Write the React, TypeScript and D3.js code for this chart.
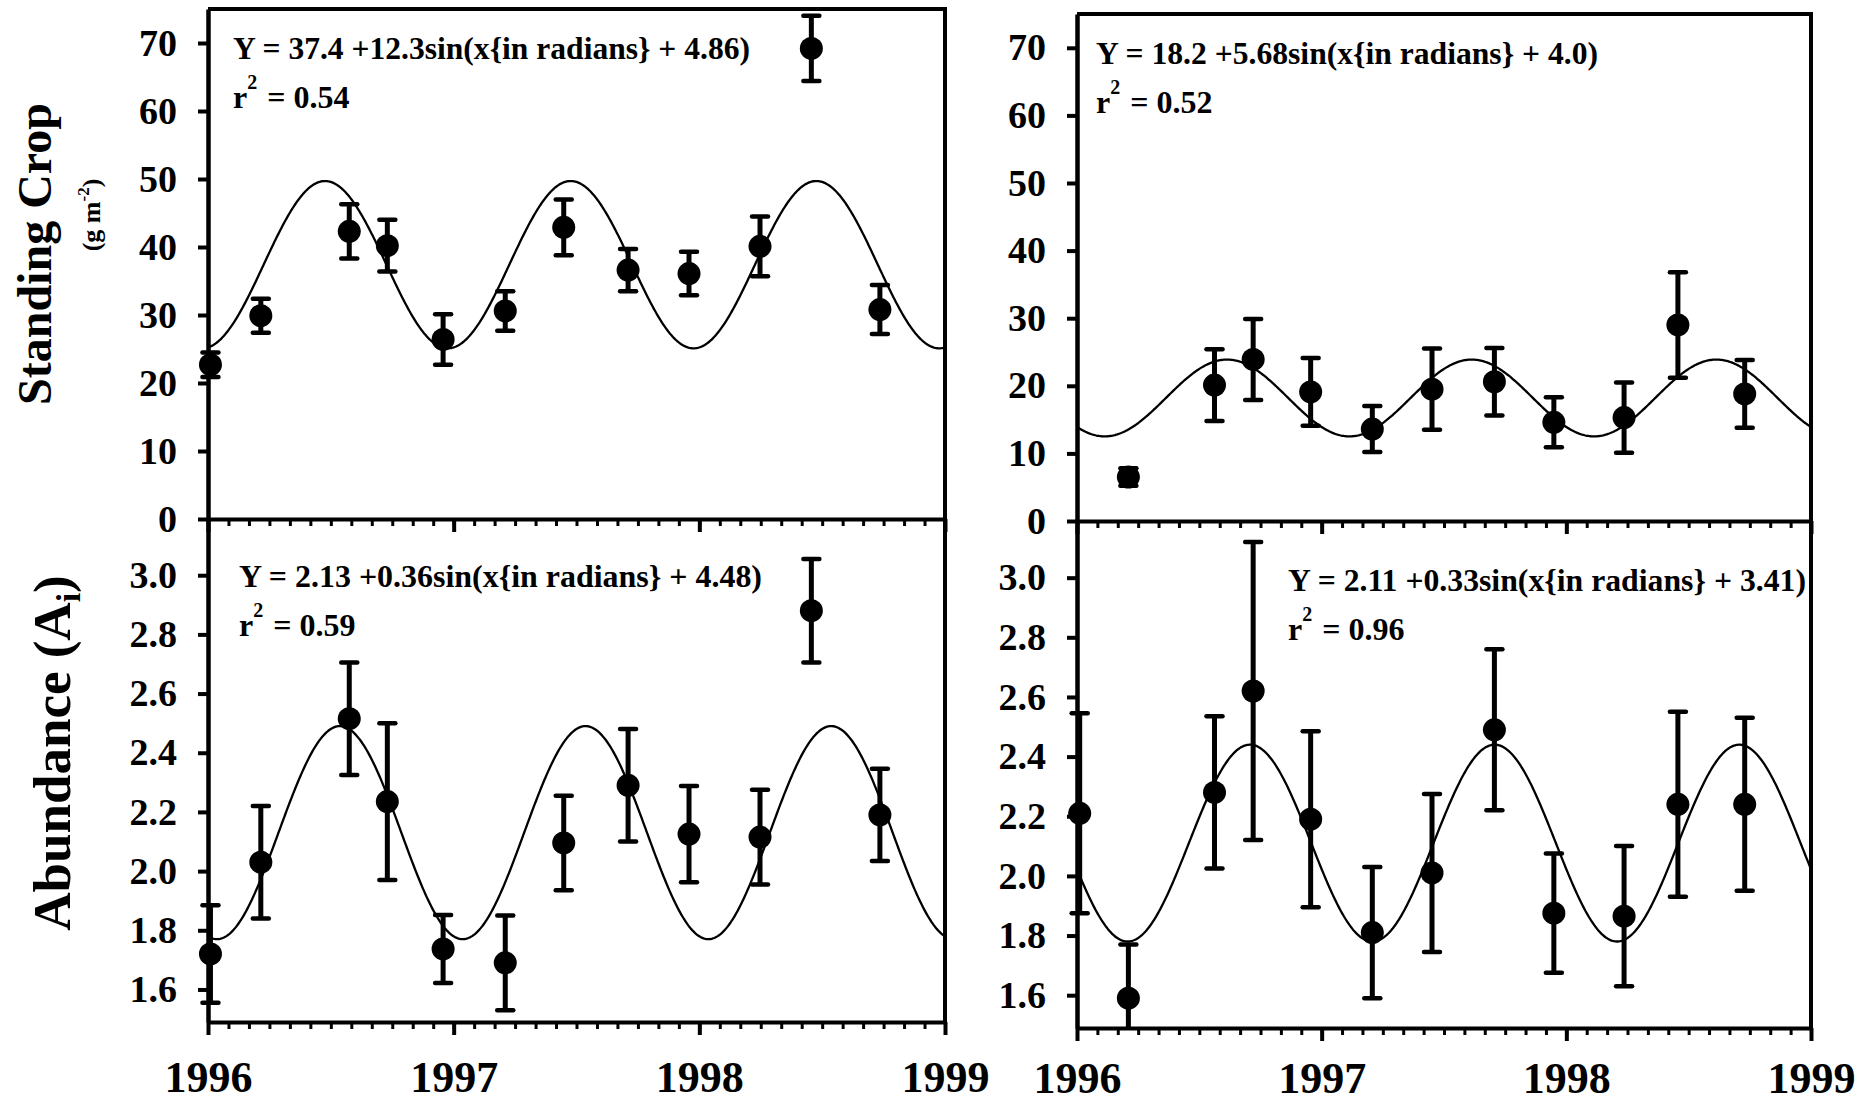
import * as d3 from "d3";
import React, { useEffect, useRef } from "react";

const FONT = '"Liberation Serif", "Times New Roman", Times, serif';

// sampling dates, decimal years (left column and right column)
const leftDates = [1996.01, 1996.215, 1996.575, 1996.73, 1996.957, 1997.21, 1997.448, 1997.71, 1997.958, 1998.247, 1998.456, 1998.735];
const rightDates = [1996.011, 1996.21, 1996.562, 1996.72, 1996.955, 1997.207, 1997.451, 1997.706, 1997.949, 1998.236, 1998.456, 1998.729];

// standing crop (g m-2), mean and error
const cropLeft = [22.7, 29.9, 42.3, 40.2, 26.4, 30.6, 42.9, 36.6, 36.1, 40.1, 69.2, 30.8];
const cropLeftErr = [1.8, 2.5, 4.0, 3.8, 3.7, 2.9, 4.1, 3.1, 3.2, 4.4, 4.8, 3.6];
const cropRight = [null, 6.5, 20.1, 23.9, 19.1, 13.6, 19.5, 20.6, 14.6, 15.3, 29.0, 18.8];
const cropRightErr = [null, 1.3, 5.3, 6.0, 5.0, 3.4, 6.0, 5.0, 3.7, 5.2, 7.8, 5.0];

// abundance (Ai), mean and error
const abundLeft = [1.72, 2.03, 2.515, 2.235, 1.737, 1.69, 2.095, 2.29, 2.125, 2.115, 2.88, 2.19];
const abundLeftErr = [0.165, 0.19, 0.19, 0.265, 0.115, 0.16, 0.16, 0.19, 0.163, 0.16, 0.175, 0.156];
const abundRight = [2.21, 1.59, 2.28, 2.62, 2.19, 1.81, 2.01, 2.49, 1.875, 1.865, 2.24, 2.24];
const abundRightErr = [0.335, 0.18, 0.255, 0.5, 0.295, 0.22, 0.265, 0.27, 0.2, 0.235, 0.31, 0.29];

// fitted sine curves: Y = mean + amp*sin(x + phase)
const fitMean = [37.4, 18.2, 2.13, 2.11];
const fitAmp = [12.3, 5.68, 0.36, 0.33];
const fitPhase = [4.86, 4.0, 4.48, 3.41];
const fitText = [
  "Y = 37.4 +12.3sin(x{in radians} + 4.86)",
  "Y = 18.2 +5.68sin(x{in radians} + 4.0)",
  "Y = 2.13 +0.36sin(x{in radians} + 4.48)",
  "Y = 2.11 +0.33sin(x{in radians} + 3.41)",
];
const fitR2 = ["0.54", "0.52", "0.59", "0.96"];

const yearTicks = [1996, 1997, 1998, 1999];
const cropTicks = [0, 10, 20, 30, 40, 50, 60, 70];
const abundTicks = [1.6, 1.8, 2.0, 2.2, 2.4, 2.6, 2.8, 3.0];

const W = 1868, H = 1106;

export default function App() {
  const svgRef = useRef<SVGSVGElement>(null);

  useEffect(() => {
    const svg = d3.select(svgRef.current);
    svg.selectAll("*").remove();

    const monthTicks = d3.range(37).map((i) => 1996 + i / 12);

    const panels = [
      { dates: leftDates, mean: cropLeft, err: cropLeftErr, domain: [0, 75], ticks: cropTicks, fmt: d3.format("d"),
        x0: 208, x1: 945, y0: 9, y1: 519, eq: [233, 59], eqLen: 517, years: false, pad: 26 },
      { dates: rightDates, mean: cropRight, err: cropRightErr, domain: [0, 75], ticks: cropTicks, fmt: d3.format("d"),
        x0: 1077, x1: 1811, y0: 14, y1: 521, eq: [1096, 64], eqLen: 502, years: false, pad: 21 },
      { dates: leftDates, mean: abundLeft, err: abundLeftErr, domain: [1.49, 3.19], ticks: abundTicks, fmt: d3.format(".1f"),
        x0: 208, x1: 945, y0: 519, y1: 1022, eq: [239, 587], eqLen: 523, years: true, pad: 26 },
      { dates: rightDates, mean: abundRight, err: abundRightErr, domain: [1.49, 3.19], ticks: abundTicks, fmt: d3.format(".1f"),
        x0: 1077, x1: 1811, y0: 521, y1: 1028, eq: [1288, 591], eqLen: 518, years: true, pad: 21 },
    ];

    panels.forEach((p, i) => {
      const x = d3.scaleLinear().domain([1996, 1999]).range([p.x0, p.x1]);
      const y = d3.scaleLinear().domain(p.domain).range([p.y1, p.y0]);
      const g = svg.append("g");

      // curve clipped to the frame, bars clipped only top/bottom
      const clipId = "clip-" + i;
      svg.append("clipPath").attr("id", clipId)
        .append("rect")
        .attr("x", p.x0).attr("y", p.y0)
        .attr("width", p.x1 - p.x0).attr("height", p.y1 - p.y0);
      const barClipId = "barclip-" + i;
      svg.append("clipPath").attr("id", barClipId)
        .append("rect")
        .attr("x", p.x0 - 30).attr("y", p.y0)
        .attr("width", p.x1 - p.x0 + 60).attr("height", p.y1 - p.y0);

      // fitted curve
      const tt = d3.range(0, 601).map((k) => 1996 + (k * 3) / 600);
      const line = d3.line<number>()
        .x((t) => x(t))
        .y((t) => y(fitMean[i] + fitAmp[i] * Math.sin(2 * Math.PI * (t - 1996) + fitPhase[i])));
      g.append("path")
        .datum(tt)
        .attr("d", line)
        .attr("fill", "none")
        .attr("stroke", "#000")
        .attr("stroke-width", 2.3)
        .attr("clip-path", `url(#${clipId})`);

      // points with error bars
      const pts = p.dates
        .map((d, k) => ({ t: d, m: p.mean[k], e: p.err[k] }))
        .filter((d) => d.m != null);
      const marks = g.append("g").attr("clip-path", `url(#${barClipId})`);
      const pt = marks.selectAll("g.pt").data(pts).enter().append("g").attr("class", "pt");
      pt.append("line")
        .attr("x1", (d) => x(d.t)).attr("x2", (d) => x(d.t))
        .attr("y1", (d) => y(d.m - d.e)).attr("y2", (d) => y(d.m + d.e))
        .attr("stroke", "#000").attr("stroke-width", 5);
      [1, -1].forEach((s) => {
        pt.append("line")
          .attr("x1", (d) => x(d.t) - 8).attr("x2", (d) => x(d.t) + 8)
          .attr("y1", (d) => y(d.m + s * d.e)).attr("y2", (d) => y(d.m + s * d.e))
          .attr("stroke", "#000").attr("stroke-width", 4.5).attr("stroke-linecap", "round");
      });
      pt.append("circle")
        .attr("cx", (d) => x(d.t)).attr("cy", (d) => y(d.m))
        .attr("r", 11.5).attr("fill", "#000");

      // frame: top and right borders
      if (!p.years) {
        g.append("line").attr("x1", p.x0).attr("x2", p.x1 + 2).attr("y1", p.y0).attr("y2", p.y0)
          .attr("stroke", "#000").attr("stroke-width", 4);
      }
      g.append("line").attr("x1", p.x1).attr("x2", p.x1).attr("y1", p.y0 - 2).attr("y2", p.y1)
        .attr("stroke", "#000").attr("stroke-width", 4);

      // x axis: monthly minor ticks
      const xa = g.append("g").attr("transform", `translate(0,${p.y1})`)
        .call(d3.axisBottom(x).tickValues(monthTicks).tickSize(7).tickSizeOuter(0).tickFormat(() => ""));
      xa.select(".domain").attr("stroke-width", 4);
      xa.selectAll(".tick line").attr("stroke-width", 3);

      // x axis: year ticks and labels
      const xm = g.append("g").attr("transform", `translate(0,${p.y1})`)
        .call(d3.axisBottom(x).tickValues(yearTicks).tickSize(13).tickSizeOuter(0).tickPadding(p.pad)
          .tickFormat((d) => (p.years ? d3.format("d")(d as number) : "")));
      xm.select(".domain").remove();
      xm.selectAll(".tick line").attr("stroke-width", 4);
      xm.attr("font-family", FONT).attr("font-size", 44).attr("font-weight", "bold");

      // y axis
      const ya = g.append("g").attr("transform", `translate(${p.x0},0)`)
        .call(d3.axisLeft(y).tickValues(p.ticks).tickSize(10).tickSizeOuter(0).tickPadding(21).tickFormat(p.fmt as any));
      ya.select(".domain").attr("stroke-width", 4.5);
      ya.selectAll(".tick line").attr("stroke-width", 4);
      ya.attr("font-family", FONT).attr("font-size", 38).attr("font-weight", "bold");

      // equation and r^2
      svg.append("text")
        .attr("x", p.eq[0]).attr("y", p.eq[1])
        .attr("font-family", FONT).attr("font-size", 32).attr("font-weight", "bold")
        .attr("textLength", p.eqLen).attr("lengthAdjust", "spacingAndGlyphs")
        .text(fitText[i]);
      const r2 = svg.append("text")
        .attr("x", p.eq[0]).attr("y", p.eq[1] + 49)
        .attr("font-family", FONT).attr("font-size", 32).attr("font-weight", "bold");
      r2.append("tspan").text("r");
      r2.append("tspan").attr("font-size", 20).attr("dy", -19).text("2");
      r2.append("tspan").attr("dy", 19).attr("dx", 2).text(" = " + fitR2[i]);
    });

    // y axis titles
    svg.append("text")
      .attr("transform", "translate(51,254) rotate(-90)")
      .attr("text-anchor", "middle")
      .attr("font-family", FONT).attr("font-size", 48).attr("font-weight", "bold")
      .text("Standing Crop");
    const unit = svg.append("text")
      .attr("transform", "translate(100,215) rotate(-90)")
      .attr("text-anchor", "middle")
      .attr("font-family", FONT).attr("font-size", 26).attr("font-weight", "bold");
    unit.append("tspan").text("(g m");
    unit.append("tspan").attr("font-size", 17).attr("dy", -11).text("-2");
    unit.append("tspan").attr("dy", 11).text(")");

    const ab = svg.append("text")
      .attr("transform", "translate(70,753) rotate(-90)")
      .attr("text-anchor", "middle")
      .attr("font-family", FONT).attr("font-size", 53).attr("font-weight", "bold");
    ab.append("tspan").text("Abundance (A");
    ab.append("tspan").attr("font-size", 34).attr("dy", 10).text("i");
    ab.append("tspan").attr("dy", -10).text(")");
  }, []);

  return (
    <svg
      ref={svgRef}
      width={W}
      height={H}
      style={{ position: "absolute", left: 0, top: 0, background: "#fff", display: "block" }}
    />
  );
}
